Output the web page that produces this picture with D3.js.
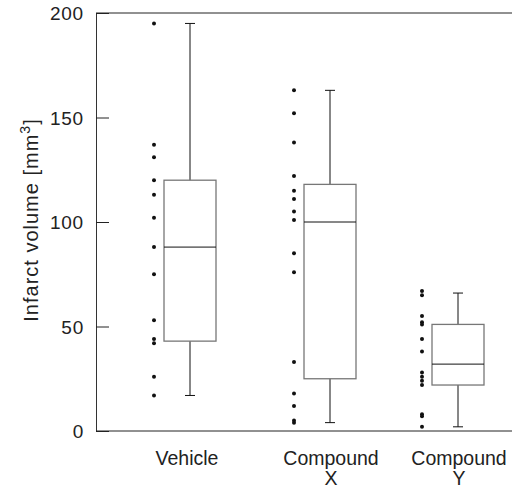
<!DOCTYPE html>
<html>
<head>
<meta charset="utf-8">
<script src="https://cdn.jsdelivr.net/npm/d3@7"></script>
<style>
  body { margin: 0; background: #fff; }
  text { font-family: "Liberation Sans", Arial, sans-serif; fill: #222; }
</style>
</head>
<body>
<svg id="chart" width="512" height="490"></svg>
<script>
// groups and box statistics
const groups = ["Vehicle", "Compound X", "Compound Y"];
const whiskerHigh = [195, 163, 66];
const q3 = [120, 118, 51];
const medians = [88, 100, 32];
const q1 = [43, 25, 22];
const whiskerLow = [17, 4, 2];

// individual animals, drawn as dots left of each box
const vehiclePts = [195, 137, 131, 120, 113, 102, 88, 75, 53, 44, 42, 26, 17];
const compXPts = [163, 152, 138, 122, 115, 111, 105, 101, 85, 76, 33, 18, 12, 5, 4];
const compYPts = [67, 65, 55, 52, 51, 44, 38, 28, 26, 24, 22, 8, 7, 2];
const points = [vehiclePts, compXPts, compYPts];

const yTicks = [0, 50, 100, 150, 200];

const svg = d3.select("#chart");
const mLeft = 96, mRight = 512, mTop = 13, mBottom = 431;

const y = d3.scaleLinear().domain([0, 200]).range([mBottom, mTop]);
const x = d3.scaleOrdinal().domain(groups).range([190, 330, 458]);

// y axis, ticks pointing inwards
const yAxis = d3.axisLeft(y)
    .tickValues(yTicks)
    .tickSizeInner(-13)
    .tickSizeOuter(0)
    .tickPadding(12);

const ag = svg.append("g")
    .attr("transform", `translate(${mLeft},0)`)
    .call(yAxis);
ag.select(".domain").attr("stroke", "#333");
ag.selectAll(".tick line").attr("stroke", "#222");
ag.selectAll(".tick text")
    .attr("font-size", 19)
    .attr("fill", "#222")
    .attr("dy", "0.35em")
    .style("letter-spacing", "0.8px")
    .style("font-family", "Liberation Sans, Arial, sans-serif");

// top and bottom frame lines
svg.append("line").attr("x1", mLeft).attr("x2", mRight)
    .attr("y1", y(200)).attr("y2", y(200)).attr("stroke", "#222");
svg.append("line").attr("x1", mLeft).attr("x2", mRight)
    .attr("y1", y(0)).attr("y2", y(0)).attr("stroke", "#222");

// y title
svg.append("text")
    .attr("transform", "translate(38,220) rotate(-90)")
    .attr("text-anchor", "middle")
    .attr("font-size", 20)
    .style("letter-spacing", "1px")
    .html('Infarct volume [mm<tspan dy="-8" font-size="14">3</tspan><tspan dy="8">]</tspan>');

const boxHalf = 26, capHalf = 5, dotOff = 36;

groups.forEach(function (g, i) {
    const cx = x(g);
    const gg = svg.append("g");

    // whiskers
    gg.append("line").attr("x1", cx).attr("x2", cx)
        .attr("y1", y(q3[i])).attr("y2", y(whiskerHigh[i]))
        .attr("stroke", "#111");
    gg.append("line").attr("x1", cx).attr("x2", cx)
        .attr("y1", y(q1[i])).attr("y2", y(whiskerLow[i]))
        .attr("stroke", "#111");
    [whiskerHigh[i], whiskerLow[i]].forEach(function (v) {
        gg.append("line").attr("x1", cx - capHalf).attr("x2", cx + capHalf)
            .attr("y1", y(v)).attr("y2", y(v))
            .attr("stroke", "#111");
    });

    // box
    gg.append("rect")
        .attr("x", cx - boxHalf)
        .attr("y", y(q3[i]))
        .attr("width", boxHalf * 2)
        .attr("height", y(q1[i]) - y(q3[i]))
        .attr("fill", "none")
        .attr("stroke", "#777")
        .attr("stroke-width", 1.3);
    gg.append("line").attr("x1", cx - boxHalf).attr("x2", cx + boxHalf)
        .attr("y1", y(medians[i])).attr("y2", y(medians[i]))
        .attr("stroke", "#111");

    // dots
    gg.selectAll("circle")
        .data(points[i])
        .enter()
        .append("circle")
        .attr("cx", cx - dotOff)
        .attr("cy", d => y(d))
        .attr("r", 2)
        .attr("fill", "#111");
});

// category labels
const labels = svg.selectAll(".cat")
    .data(groups)
    .enter()
    .append("text")
    .attr("class", "cat")
    .attr("text-anchor", "middle")
    .attr("font-size", 19.5)
    .attr("y", 465);

labels.each(function (d, i) {
    const parts = d.split(" ");
    const t = d3.select(this);
    parts.forEach(function (p, j) {
        t.append("tspan")
            .attr("x", x(d) + (i === 0 ? -3 : 1))
            .attr("dy", j === 0 ? 0 : 20)
            .text(p);
    });
});
</script>
</body>
</html>
